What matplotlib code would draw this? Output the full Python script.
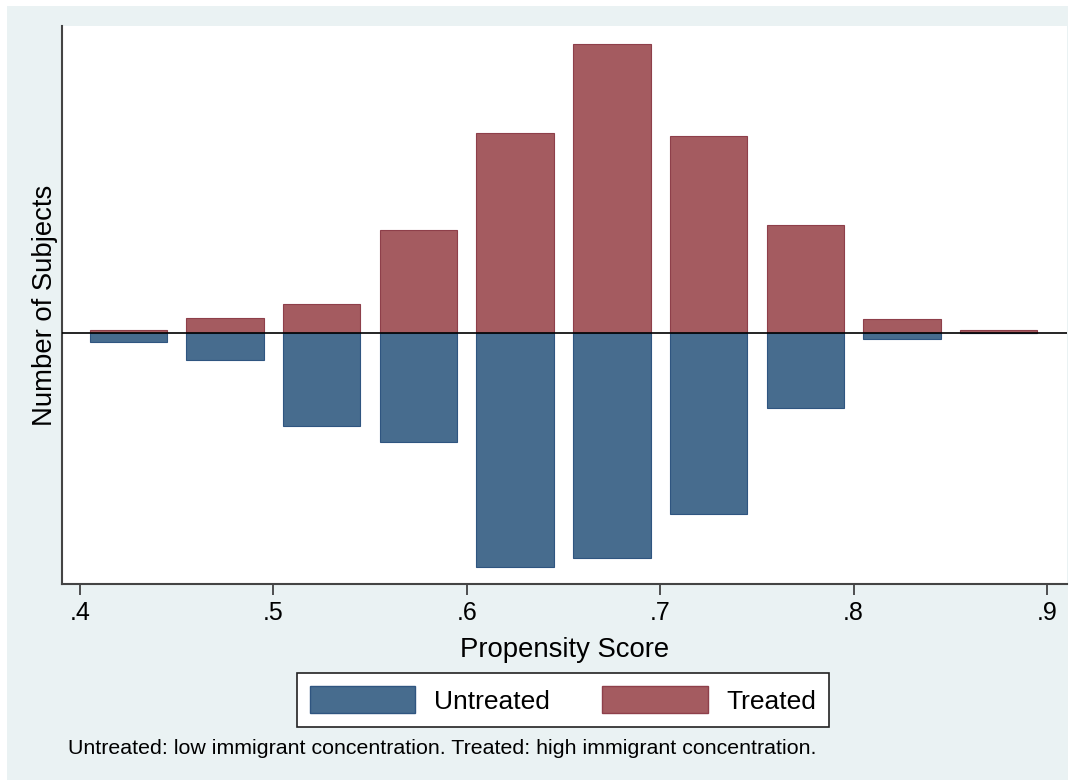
import matplotlib
matplotlib.use("Agg")
import matplotlib.pyplot as plt
from matplotlib.patches import Rectangle, Patch

plt.rcParams['font.family'] = ['Liberation Sans', 'DejaVu Sans']

bin_centers = [0.425, 0.475, 0.525, 0.575, 0.625, 0.675, 0.725, 0.775, 0.825, 0.875]
treated = [3, 15, 29, 103, 200, 289, 197, 108, 14, 3]
untreated = [9, 27, 93, 109, 234, 225, 181, 75, 6, 0]
xticks = [0.4, 0.5, 0.6, 0.7, 0.8, 0.9]
xticklabels = ['.4', '.5', '.6', '.7', '.8', '.9']

bg = '#EAF2F3'
c_treated = '#A45B60'
e_treated = '#8E3F4A'
c_untreated = '#476C8E'
e_untreated = '#2F5580'

W, H = 1074, 784
fig = plt.figure(figsize=(W / 100, H / 100), dpi=100, facecolor='white')
fig.patches.append(Rectangle((7 / W, 4 / H), (1068 - 7) / W, (778 - 4) / H,
                             transform=fig.transFigure, facecolor=bg,
                             edgecolor='none', zorder=-10))

ax = fig.add_axes([62 / W, 1 - 584 / H, (1067 - 62) / W, (584 - 26) / H])
ax.set_facecolor('white')

ax.bar(bin_centers, treated, width=0.04, color=c_treated, edgecolor=e_treated,
       linewidth=0.8, zorder=2)
ax.bar(bin_centers, [-v for v in untreated], width=0.04, color=c_untreated,
       edgecolor=e_untreated, linewidth=0.8, zorder=2)
ax.axhline(0, color='black', linewidth=1.2, zorder=3)

ax.set_xlim(0.3907, 0.9103)
ax.set_ylim(-251, 307)
ax.set_xticks(xticks)
ax.set_xticklabels(xticklabels, fontsize=18)
ax.set_yticks([])
ax.tick_params(axis='x', direction='out', length=8, width=1.2, color='#333333', pad=4)

for s in ['top', 'right']:
    ax.spines[s].set_visible(False)
for s in ['left', 'bottom']:
    ax.spines[s].set_color('#444444')
    ax.spines[s].set_linewidth(1.5)

ax.set_xlabel('Propensity Score', fontsize=19.8, labelpad=9)
ax.set_ylabel('Number of Subjects', fontsize=19.8, labelpad=3)

handles = [Patch(facecolor=c_untreated, edgecolor=e_untreated, label='Untreated'),
           Patch(facecolor=c_treated, edgecolor=e_treated, label='Treated')]
leg = fig.legend(handles=handles, loc='center', bbox_to_anchor=(563 / W, 1 - 700 / H),
                 ncol=2, fontsize=19, frameon=True, fancybox=False, framealpha=1,
                 handlelength=4.0, handleheight=1.2, columnspacing=2.0,
                 handletextpad=0.7, borderpad=0.5)
leg.get_frame().set_edgecolor('#222222')
leg.get_frame().set_facecolor('white')
leg.get_frame().set_linewidth(1.2)

fig.text(68 / W, 1 - 748 / H, 'Untreated: low immigrant concentration. Treated: high immigrant concentration.',
         fontsize=15.4, va='center', ha='left')

fig.savefig('out.png', dpi=100, facecolor='white')
